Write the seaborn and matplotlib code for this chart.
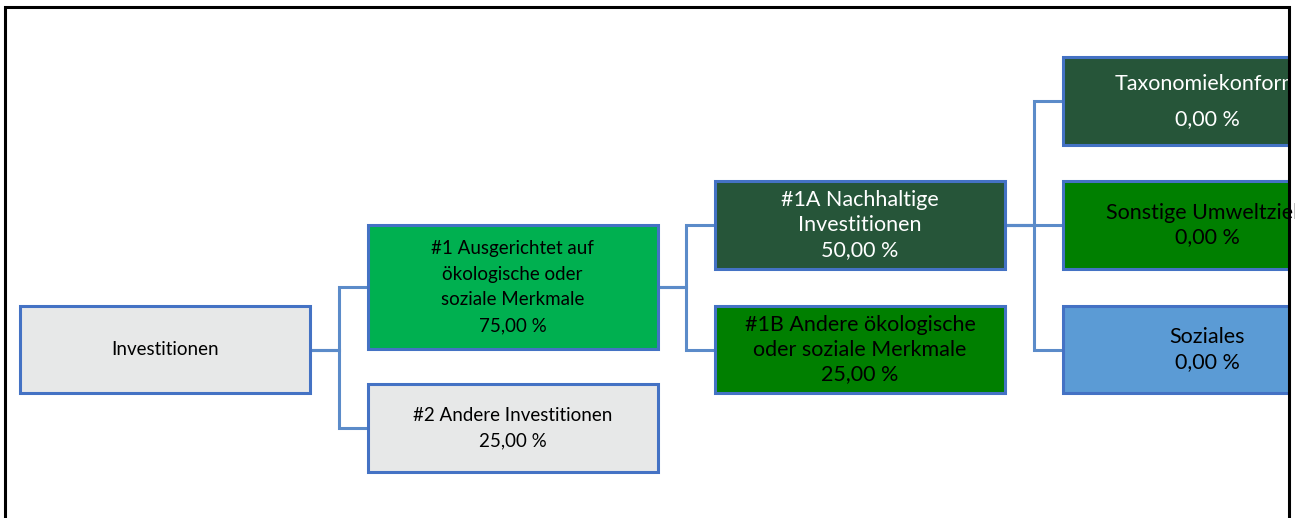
import matplotlib
matplotlib.use("Agg")
import matplotlib.pyplot as plt
import matplotlib.patches as mpatches
import seaborn as sns

sns.set_theme(style="white")
plt.rcParams['font.family'] = ['Lato', 'DejaVu Sans']

# ---- data ----
node_ids = ["inv", "n1", "n2", "n1a", "n1b", "tax", "umw", "soz"]
node_labels = ["Investitionen",
               "#1 Ausgerichtet auf\nökologische oder\nsoziale Merkmale",
               "#2 Andere Investitionen",
               "#1A Nachhaltige\nInvestitionen",
               "#1B Andere ökologische\noder soziale Merkmale",
               "Taxonomiekonform",
               "Sonstige Umweltziele",
               "Soziales"]
node_shares = [None, "75,00 %", "25,00 %", "50,00 %", "25,00 %", "0,00 %", "0,00 %", "0,00 %"]
parents = [None, "inv", "inv", "n1", "n1", "n1a", "n1a", "n1a"]

# ---- layout / style (pixel coordinates) ----
levels = {"inv": 0, "n1": 1, "n2": 1, "n1a": 2, "n1b": 2, "tax": 3, "umw": 3, "soz": 3}
box_top = {"inv": 306, "n1": 225, "n2": 384, "n1a": 181, "n1b": 306,
           "tax": 57, "umw": 181, "soz": 306}
box_h = {"inv": 87, "n1": 124, "n2": 88, "n1a": 88, "n1b": 87,
         "tax": 88, "umw": 88, "soz": 87}
fills = {"inv": "#E7E8E8", "n1": "#00B050", "n2": "#E7E8E8", "n1a": "#265539",
         "n1b": "#007F00", "tax": "#265539", "umw": "#007F00", "soz": "#5B9BD5"}
txtcol = {"inv": "black", "n1": "black", "n2": "black", "n1a": "white",
          "n1b": "black", "tax": "white", "umw": "black", "soz": "black"}
x0 = 20
step = 347.5
box_w = 290
edge = "#4472C4"
conn = "#5B8BC9"

W, H = 1295, 518
fig = plt.figure(figsize=(W / 100, H / 100), dpi=100)
ax = fig.add_axes([0, 0, 1, 1])
ax.set_xlim(0, W)
ax.set_ylim(H, 0)
ax.axis("off")

clip = mpatches.Rectangle((0, 0), 1289, H, transform=ax.transData, visible=False)
ax.add_patch(clip)

def left(n):
    return x0 + levels[n] * step

# connectors
for nid, par in zip(node_ids, parents):
    if par is None:
        continue
    px = left(par) + box_w
    py = box_top[par] + box_h[par] / 2
    cx = left(nid)
    cy = box_top[nid] + box_h[nid] / 2
    mx = (px + cx) / 2
    ax.plot([px, mx, mx, cx], [py, py, cy, cy], color=conn, lw=2.2,
            solid_joinstyle="miter", zorder=1)

# boxes
for nid, lab, sh in zip(node_ids, node_labels, node_shares):
    x = left(nid)
    r = mpatches.Rectangle((x, box_top[nid]), box_w, box_h[nid], facecolor=fills[nid],
                           edgecolor=edge, lw=2.2, zorder=2)
    ax.add_patch(r)
    r.set_clip_path(clip)
    cx = x + box_w / 2
    cy = box_top[nid] + box_h[nid] / 2
    if levels[nid] <= 1:
        fs, ls = 13.5, 1.62
    else:
        fs, ls = 15.5, 1.3
    if nid == "tax":
        t1 = ax.text(cx, cy - 17, lab, ha="center", va="center", fontsize=fs,
                     color=txtcol[nid], zorder=3)
        t2 = ax.text(cx, cy + 18, sh, ha="center", va="center", fontsize=fs,
                     color=txtcol[nid], zorder=3)
        t1.set_clip_path(clip)
        t2.set_clip_path(clip)
        continue
    text = lab if sh is None else lab + "\n" + sh
    t = ax.text(cx, cy, text, ha="center", va="center", fontsize=fs,
                color=txtcol[nid], linespacing=ls, zorder=3)
    t.set_clip_path(clip)

# outer frame
ax.plot([5, 5, 1289, 1289], [H, 7, 7, H], color="black", lw=2.2, zorder=4,
        solid_joinstyle="miter")

fig.savefig("out.png", dpi=100)
